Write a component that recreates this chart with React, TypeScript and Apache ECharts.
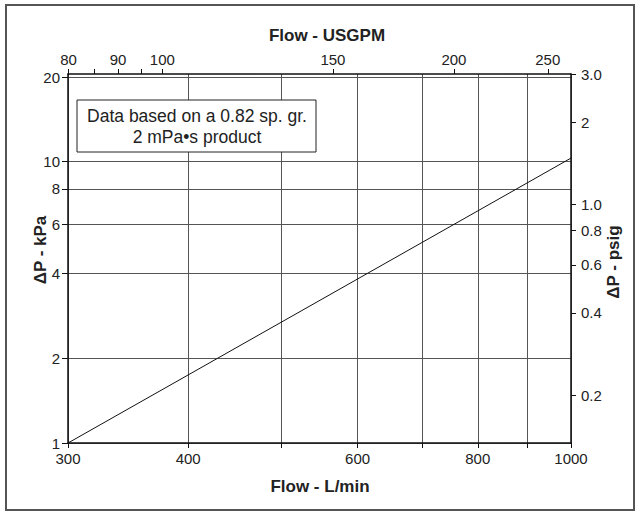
import React, { useEffect, useRef } from "react";
import * as echarts from "echarts";

// Data (log-log chart: pressure drop vs flow)
const flowLpm = [300, 1000];
const dpKpa = [1.0, 10.3];

// Axis ticks / labels
const bottomTickValues = [300, 400, 500, 600, 700, 800, 900, 1000];
const bottomLabelValues = [300, 400, 600, 800, 1000];
const topTickValues = [80, 85, 90, 95, 100, 150, 200, 250];
const topLabelValues = [80, 90, 100, 150, 200, 250];
const leftTickValues = [1, 2, 4, 6, 8, 10, 20];
const rightTickValues = [0.2, 0.4, 0.6, 0.8, 1.0, 2, 3.0];
const rightTickLabels = ["0.2", "0.4", "0.6", "0.8", "1.0", "2", "3.0"];

// Axis ranges
const bottomRange = [300, 1000];
const topRange = [79.9, 264.2];
const leftRange = [1, 20.5];
const rightRange = [0.1335, 3.0];

const FONT = "'Liberation Sans', Arial, Helvetica, sans-serif";
const EPS = 1e-7;
const lg = (v: number) => Math.log10(v);

const intFmt = (v: number) => String(Math.round(Math.pow(10, v)));
const rightFmt = (v: number) => {
  for (let i = 0; i < rightTickValues.length; i++) {
    if (Math.abs(lg(rightTickValues[i]) - v) < 1e-5) return rightTickLabels[i];
  }
  return "";
};

const axisLineStyle = { show: true, onZero: false, lineStyle: { color: "#111", width: 1.5 } };
const tickStyle = (vals: number[], len = 5) => ({
  show: true,
  length: len,
  inside: false,
  customValues: vals.map(lg),
  lineStyle: { color: "#111", width: 1 },
});
const labelStyle = (vals: number[], fmt: (v: number) => string, margin: number) => ({
  show: true,
  customValues: vals.map(lg),
  formatter: fmt,
  fontFamily: FONT,
  fontSize: 15,
  color: "#222",
  margin,
});

const titleStyle = (text: string) => ({
  text,
  fontFamily: FONT,
  fontSize: 17,
  fontWeight: "bold",
  fill: "#222",
  align: "center",
  verticalAlign: "middle",
});
const noteStyle = (text: string) => ({
  text,
  fontFamily: FONT,
  fontSize: 17.5,
  fill: "#222",
  align: "center",
  verticalAlign: "middle",
});

export default function App() {
  const ref = useRef<HTMLDivElement>(null);
  useEffect(() => {
    if (!ref.current) return;
    const chart = echarts.init(ref.current, undefined, { renderer: "svg" });
    const option: any = {
      animation: false,
      backgroundColor: "#ffffff",
      grid: {
        left: 68,
        right: 69,
        top: 74,
        bottom: 69,
        containLabel: false,
        outerBoundsMode: "none",
      },
      xAxis: [
        {
          type: "value",
          position: "bottom",
          min: lg(bottomRange[0]) - EPS,
          max: lg(bottomRange[1]) + EPS,
          axisLine: axisLineStyle,
          axisTick: tickStyle(bottomTickValues),
          axisLabel: labelStyle(bottomLabelValues, intFmt, 8),
          splitLine: { show: true, lineStyle: { color: "#555", width: 1 } },
        },
        {
          type: "value",
          position: "top",
          min: lg(topRange[0]),
          max: lg(topRange[1]),
          axisLine: axisLineStyle,
          axisTick: tickStyle(topTickValues),
          axisLabel: labelStyle(topLabelValues, intFmt, 7),
          splitLine: { show: false },
        },
      ],
      yAxis: [
        {
          type: "value",
          position: "left",
          min: lg(leftRange[0]) - EPS,
          max: lg(leftRange[1]),
          axisLine: axisLineStyle,
          axisTick: tickStyle(leftTickValues, 6),
          axisLabel: labelStyle(leftTickValues, intFmt, 8),
          splitLine: { show: true, lineStyle: { color: "#555", width: 1 } },
        },
        {
          type: "value",
          position: "right",
          min: lg(rightRange[0]),
          max: lg(rightRange[1]) + EPS,
          axisLine: axisLineStyle,
          axisTick: tickStyle(rightTickValues, 5),
          axisLabel: labelStyle(rightTickValues, rightFmt, 10),
          splitLine: { show: false },
        },
      ],
      series: [
        {
          type: "line",
          xAxisIndex: 0,
          yAxisIndex: 0,
          symbol: "none",
          lineStyle: { color: "#111", width: 1 },
          data: flowLpm.map((f, i) => [lg(f), lg(dpKpa[i])]),
          z: 5,
        },
      ],
      graphic: [
        {
          type: "rect",
          shape: { x: 6, y: 5, width: 628, height: 505 },
          style: { fill: "none", stroke: "#555", lineWidth: 2 },
          z: 100,
        },
        {
          type: "rect",
          shape: { x: 77, y: 100, width: 239, height: 52 },
          style: { fill: "#fff", stroke: "#222", lineWidth: 1 },
          z: 100,
        },
        { type: "text", x: 197, y: 116, z: 101, style: noteStyle("Data based on a 0.82 sp. gr.") },
        { type: "text", x: 197, y: 137, z: 101, style: noteStyle("2 mPa•s product") },
        { type: "text", x: 327, y: 35, z: 101, style: titleStyle("Flow - USGPM") },
        { type: "text", x: 320, y: 486, z: 101, style: titleStyle("Flow - L/min") },
        { type: "text", x: 40, y: 250, rotation: Math.PI / 2, z: 101, style: titleStyle("ΔP - kPa") },
        { type: "text", x: 613, y: 262, rotation: Math.PI / 2, z: 101, style: titleStyle("ΔP - psig") },
      ],
    };
    chart.setOption(option);
    return () => chart.dispose();
  }, []);
  return (
    <div
      ref={ref}
      style={{ position: "fixed", left: 0, top: 0, width: 640, height: 512 }}
    />
  );
}
